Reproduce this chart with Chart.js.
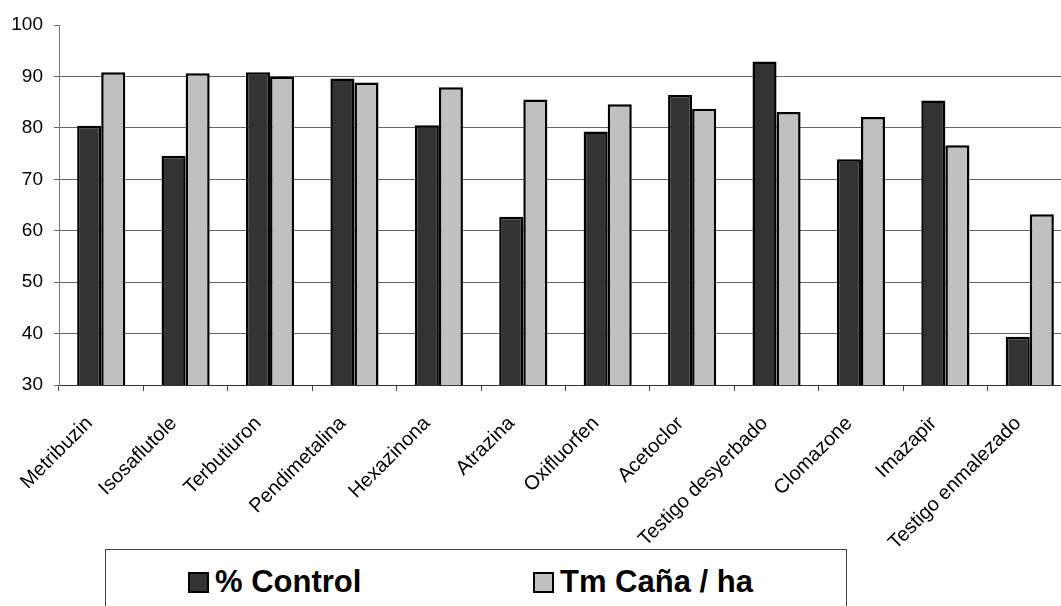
<!DOCTYPE html>
<html>
<head>
<meta charset="utf-8">
<script src="https://cdn.jsdelivr.net/npm/chart.js@4"></script>
<style>
  html, body { margin: 0; padding: 0; background: #fff; overflow: hidden; }
  #wrap { position: relative; width: 1061px; height: 606px; overflow: hidden; }
  #legendBox {
    position: absolute; left: 105px; top: 549px; width: 740px; height: 100px;
    border: 1px solid #444; background: #fff;
    font-family: "Liberation Sans", Arial, sans-serif; font-weight: bold; font-size: 31px; color: #000;
  }
  .item { position: absolute; top: 16px; white-space: nowrap; line-height: 32px; }
  .swatch { display: inline-block; width: 17px; height: 17px; border: 2px solid #000; vertical-align: -1px; margin-right: 6px; }
</style>
</head>
<body>
<div id="wrap">
  <canvas id="chart" width="1072" height="606"></canvas>
  <div id="legendBox"></div>
</div>
<script>
const categories = ['Metribuzin', 'Isosaflutole', 'Terbutiuron', 'Pendimetalina', 'Hexazinona', 'Atrazina',
                    'Oxifluorfen', 'Acetoclor', 'Testigo desyerbado', 'Clomazone', 'Imazapir', 'Testigo enmalezado'];
const controlValues = [80.4, 74.6, 90.8, 89.6, 80.5, 62.7, 79.3, 86.4, 92.9, 73.9, 85.3, 39.4];
const tmValues = [90.8, 90.6, 90.0, 88.8, 87.9, 85.5, 84.6, 83.7, 83.1, 82.1, 76.6, 63.2];
const yTicks = [30, 40, 50, 60, 70, 80, 90, 100];

const font = '"Liberation Sans", Arial, sans-serif';

const ctx = document.getElementById('chart');
const chart = new Chart(ctx, {
    type: 'bar',
    data: {
        labels: categories,
        datasets: [{
            label: '% Control',
            data: controlValues,
            backgroundColor: '#333333',
            borderColor: '#000000',
            borderWidth: 2.5
        }, {
            label: 'Tm Caña / ha',
            data: tmValues,
            backgroundColor: '#c0c0c0',
            borderColor: '#000000',
            borderWidth: 2.5
        }]
    },
    options: {
        responsive: false,
        animation: false,
        layout: { padding: { top: 25, right: 0, bottom: 0, left: 0 } },
        datasets: {
            bar: { categoryPercentage: 0.57, barPercentage: 1.0 }
        },
        plugins: {
            legend: { display: false },
            tooltip: { enabled: false }
        },
        scales: {
            x: {
                afterFit: function (scale) { scale.height = 221; },
                grid: {
                    offset: true,
                    drawOnChartArea: false,
                    drawTicks: true,
                    tickLength: 6,
                    color: '#444'
                },
                border: { display: true, color: '#333', width: 1 },
                ticks: {
                    autoSkip: false,
                    maxRotation: 45,
                    minRotation: 45,
                    padding: 9,
                    color: '#000',
                    font: { family: font, size: 20 },
                    // trailing spaces push the rotated label down-left like the original
                    callback: function (value) { return this.getLabelForValue(value) + '   '; }
                }
            },
            y: {
                min: 30,
                max: 100,
                afterFit: function (scale) { scale.width = 59; },
                afterBuildTicks: function (scale) {
                    scale.ticks = yTicks.map(v => ({ value: v }));
                },
                grid: {
                    color: c => (c.tick && c.tick.value === 100) ? 'rgba(0,0,0,0)' : '#666',
                    tickColor: '#666',
                    tickLength: 5
                },
                border: { display: true, color: '#777', width: 1 },
                ticks: {
                    padding: 11,
                    color: '#000',
                    font: { family: font, size: 19 }
                }
            }
        }
    }
});

// legend drawn as HTML from the chart datasets
const legendBox = document.getElementById('legendBox');
const itemLeft = [82, 427];
chart.data.datasets.forEach(function (ds, i) {
    const item = document.createElement('div');
    item.className = 'item';
    item.style.left = itemLeft[i] + 'px';
    const sw = document.createElement('span');
    sw.className = 'swatch';
    sw.style.background = ds.backgroundColor;
    item.appendChild(sw);
    item.appendChild(document.createTextNode(ds.label));
    legendBox.appendChild(item);
});
</script>
</body>
</html>
